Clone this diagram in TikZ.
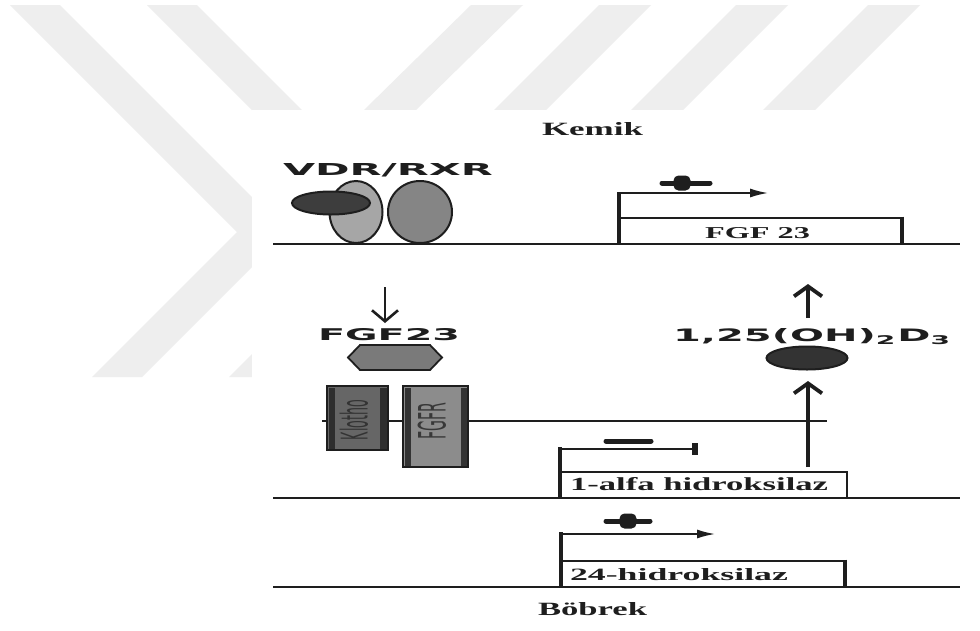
\documentclass[tikz,border=0pt]{standalone}
\usepackage{fontspec}
\setmainfont{Liberation Serif}
\newfontfamily\lblsans{DejaVu Sans}
\usepackage{graphicx}
\usetikzlibrary{arrows.meta,shapes.geometric}
\newcommand{\fitlbl}[3]{\resizebox{#1pt}{#2pt}{#3}}
\definecolor{wm}{HTML}{EEEEEE}
\definecolor{ink}{HTML}{1E1E1E}
\begin{document}
\begin{tikzpicture}[x=1pt,y=-1pt,
  lbl/.style={inner sep=0pt,outer sep=0pt,text=ink},
  dna/.style={draw=ink,line width=2.5pt},
  prom/.style={draw=ink,line width=3.8pt},
  tss/.style={draw=ink,line width=1.6pt,-{Latex[length=18pt,width=9pt]}},
  genetop/.style={draw=ink,line width=1.6pt},
  geneend/.style={draw=ink,line width=3.2pt},
  thinarrow/.style={draw=ink,line width=2.5pt,-{Straight Barb[length=11pt,width=26pt,line width=2.6pt]}},
  boldarrow/.style={draw=ink,line width=4.8pt,-{Straight Barb[length=10pt,width=28pt,line width=3.8pt]}},
  blob/.style={ellipse,draw=ink,line width=2pt,inner sep=0pt},
  sign/.style={draw=ink,line width=5pt,line cap=round},
  recbox/.style={rectangle,draw=ink,line width=2pt,inner sep=0pt}
]
\useasboundingbox (0,0) rectangle (980,630);
\fill[white] (0,0) rectangle (980,630);
% watermark
\begin{scope}
\clip (0,5) rectangle (980,377);
\fill[wm] (10,5) -- (237,232) -- (92,377) -- (142,377) -- (287,232) -- (60,5) -- cycle;
\fill[wm] (147,5) -- (374,232) -- (229,377) -- (279,377) -- (424,232) -- (197,5) -- cycle;
\fill[wm] (471,5) -- (523,5) -- (416,110) -- (364,110) -- cycle;
\fill[wm] (599,5) -- (651,5) -- (546,110) -- (494,110) -- cycle;
\fill[wm] (736,5) -- (788,5) -- (683,110) -- (631,110) -- cycle;
\fill[wm] (868,5) -- (920,5) -- (815,110) -- (763,110) -- cycle;
\end{scope}
\fill[white] (252,110) rectangle (980,630);

% labels
\node[lbl,anchor=base west] (kemik) at (542,135) {\fitlbl{101}{13}{\bfseries Kemik}};
\node[lbl,anchor=base west] (vdrlbl) at (283,175) {\fitlbl{210}{12}{\lblsans\bfseries VDR/RXR}};
\node[lbl,anchor=base west] (fgfgene) at (705,238) {\fitlbl{105}{11}{\bfseries FGF 23}};
\node[lbl,anchor=base west] (fgflbl) at (318,340) {\fitlbl{142}{12}{\lblsans\bfseries FGF23}};
\node[lbl,anchor=base west] (d3lbl) at (673,341) {\fitlbl{279}{13}{\lblsans\bfseries 1,25(OH)\textsubscript{2}D\textsubscript{3}}};
\node[lbl,anchor=base west] (alfa) at (570,490) {\fitlbl{258}{13}{\bfseries 1-alfa hidroksilaz}};
\node[lbl,anchor=base west] (hidr) at (570,580) {\fitlbl{218}{12}{\bfseries 24-hidroksilaz}};
\node[lbl,anchor=base west] (bobrek) at (538,615) {\fitlbl{109}{13}{\bfseries Böbrek}};

% DNA and membrane lines
\coordinate (l1a) at (273,244); \coordinate (l1b) at (960,244);
\coordinate (l2a) at (273,498); \coordinate (l2b) at (960,498);
\coordinate (l3a) at (273,587); \coordinate (l3b) at (960,587);
\coordinate (ma) at (322,421); \coordinate (mb) at (827,421);
\draw[dna] (l1a) -- (l1b);
\draw[dna] (l2a) -- (l2b);
\draw[dna] (l3a) -- (l3b);
\draw[draw=ink,line width=1.5pt] (ma) -- (mb);

% VDR/RXR complex
\node[blob,fill=black!35,minimum width=53pt,minimum height=62pt] (vdr) at (356,212) {};
\node[blob,fill=black!48,minimum width=64pt,minimum height=62pt] (rxr) at (420,212) {};
\node[blob,fill=black!76,minimum width=78pt,minimum height=23pt] (lig) at (331,203) {};

% FGF23 gene
\coordinate (p1b) at (619,244); \coordinate (p1t) at (619,192);
\coordinate (t1a) at (618,193); \coordinate (t1b) at (768,193);
\draw[prom] (p1b) -- (p1t);
\draw[tss] (t1a) -- (t1b);
\draw[genetop] (620,218) -- (902,218);
\draw[geneend] (902,216.5) -- (902,244);
\coordinate (plus1a) at (662,183); \coordinate (plus1b) at (710,183);
\draw[sign] (plus1a) -- (plus1b);
\node[rectangle,rounded corners=5pt,fill=ink,minimum width=17pt,minimum height=15pt,inner sep=0pt] (plus1) at (682,183) {};

% arrows between tissues
\coordinate (a1s) at (385,287); \coordinate (a1e) at (385,323);
\draw[thinarrow] (a1s) -- (a1e);
\coordinate (a2s) at (808,318); \coordinate (a2e) at (808,284);
\draw[boldarrow] (a2s) -- (a2e);
\coordinate (a3s) at (808,467); \coordinate (a3e) at (808,381);
\draw[boldarrow] (a3s) -- (a3e);

% FGF23 hexagon
\fill[black!52] (348,357.5) -- (360,345) -- (430,345) -- (442,357.5) -- (430,370) -- (360,370) -- cycle;
\draw[draw=ink,line width=1.8pt,line join=miter] (348,357.5) -- (360,345) -- (430,345) -- (442,357.5) -- (430,370) -- (360,370) -- cycle;
\coordinate (hex) at (395,357.5);

% 1,25 D3 ellipse
\node[blob,fill=black!80,minimum width=81pt,minimum height=23pt] (d3) at (807,358) {};

% Klotho and FGFR
\node[recbox,fill=black!60,minimum width=61pt,minimum height=64pt] (klotho) at (357.5,418) {};
\fill[black!82] (328.5,387.5) rectangle (335,448.5);
\fill[black!82] (380,387.5) rectangle (386.5,448.5);
\node[lbl,text=black!80] (klotholbl) at (354,420) {\rotatebox{90}{\fitlbl{40}{28}{\lblsans Klotho}}};
\node[recbox,fill=black!45,minimum width=65pt,minimum height=81pt] (fgfr) at (435.5,426.5) {};
\fill[black!80] (404.5,387.5) rectangle (410.5,465.5);
\fill[black!80] (460.5,387.5) rectangle (466.5,465.5);
\node[lbl,text=black!78] (fgfrlbl) at (432,421) {\rotatebox{90}{\fitlbl{37}{28}{\lblsans FGFR}}};

% 1-alfa hidroksilaz gene
\coordinate (p2b) at (560,498); \coordinate (p2t) at (560,447);
\coordinate (t2a) at (559,449); \coordinate (t2b) at (698,449);
\draw[prom] (p2b) -- (p2t);
\draw[draw=ink,line width=1.6pt,-{Rectangle[length=6pt,width=12pt]}] (t2a) -- (t2b);
\draw[genetop] (561,472) -- (847,472);
\draw[draw=ink,line width=2.5pt] (847,471) -- (847,498);
\coordinate (minusa) at (606,441); \coordinate (minusb) at (651,441);
\draw[sign] (minusa) -- (minusb);

% 24-hidroksilaz gene
\coordinate (p3b) at (561,587); \coordinate (p3t) at (561,532);
\coordinate (t3a) at (560,534); \coordinate (t3b) at (715,534);
\draw[prom] (p3b) -- (p3t);
\draw[tss] (t3a) -- (t3b);
\draw[genetop] (562,561) -- (845,561);
\draw[geneend] (845,559.5) -- (845,587);
\coordinate (plus2a) at (606,521); \coordinate (plus2b) at (650,521);
\draw[sign] (plus2a) -- (plus2b);
\node[rectangle,rounded corners=5pt,fill=ink,minimum width=17pt,minimum height=15pt,inner sep=0pt] (plus2) at (628,521) {};
\end{tikzpicture}
\end{document}
